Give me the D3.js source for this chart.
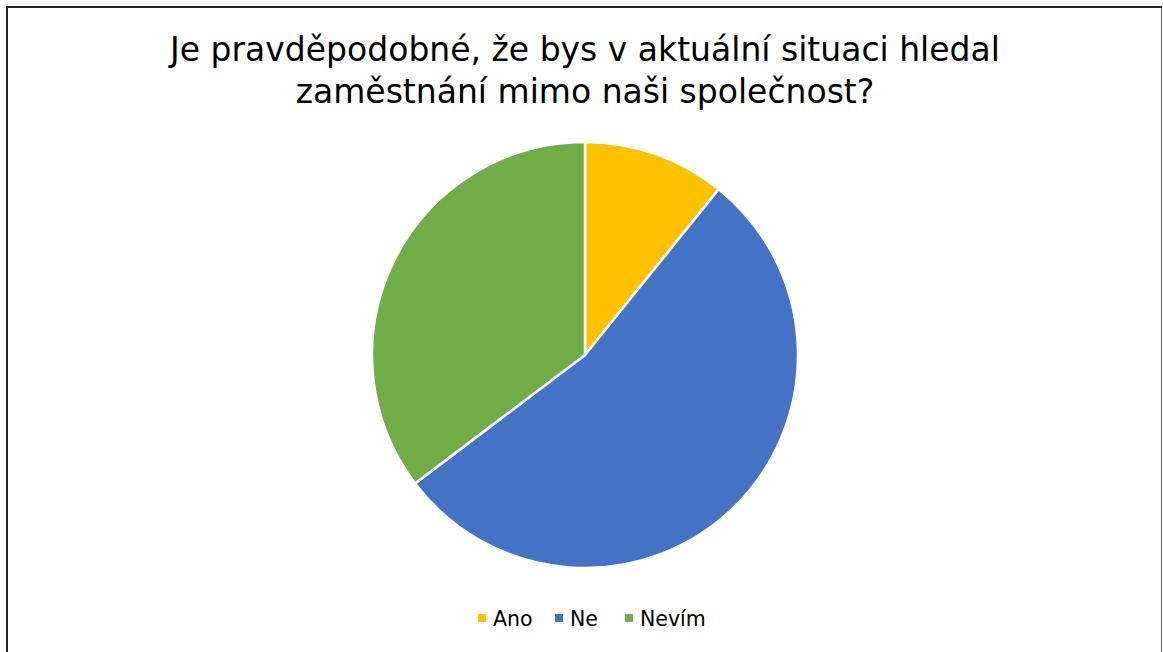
<!DOCTYPE html>
<html><head><meta charset="utf-8">
<script src="https://cdn.jsdelivr.net/npm/d3@7"></script>
<style>html,body{margin:0;padding:0;background:#fff;}svg{display:block;}</style>
</head><body>
<script>
const categories = ["Ano", "Ne", "Nevím"];
const values = [10.8, 53.9, 35.3];
const colors = ["#FFC000", "#4472C4", "#70AD47"];
const titleLines = ["Je pravděpodobné, že bys v aktuální situaci hledal", "zaměstnání mimo naši společnost?"];

const W = 1163, H = 652;
const svg = d3.select("body").append("svg").attr("width", W).attr("height", H);
svg.append("rect").attr("width", W).attr("height", H).attr("fill", "#fff");

// border
svg.append("line").attr("x1", 7).attr("x2", 7).attr("y1", 6).attr("y2", H).attr("stroke", "#222").attr("stroke-width", 2);
svg.append("line").attr("x1", 6).attr("x2", 1162).attr("y1", 7).attr("y2", 7).attr("stroke", "#222").attr("stroke-width", 2);
svg.append("line").attr("x1", 1161.5).attr("x2", 1161.5).attr("y1", 7).attr("y2", H).attr("stroke", "#666").attr("stroke-width", 1);

// title
svg.append("g").selectAll("text").data(titleLines).join("text")
  .attr("x", 585).attr("y", (d, i) => 61 + i * 42)
  .attr("text-anchor", "middle")
  .attr("font-family", "DejaVu Sans, sans-serif")
  .attr("font-size", 33).attr("fill", "#000")
  .text(d => d);

// pie
const cx = 585, cy = 355, r = 213;
const pie = d3.pie().sort(null).value(d => d.v);
const arc = d3.arc().innerRadius(0).outerRadius(r);
const data = categories.map((c, i) => ({c, v: values[i], col: colors[i]}));
svg.append("g").attr("transform", `translate(${cx},${cy})`)
  .selectAll("path").data(pie(data)).join("path")
  .attr("d", arc).attr("fill", d => d.data.col)
  .attr("stroke", "#fff").attr("stroke-width", 2.5).attr("stroke-linejoin", "round");

// legend
const legX = [478, 555, 625];
const lg = svg.append("g").selectAll("g").data(data).join("g")
  .attr("transform", (d, i) => `translate(${legX[i]},618)`);
lg.append("rect").attr("x", 0).attr("y", -4).attr("width", 8).attr("height", 8).attr("fill", d => d.col);
lg.append("text").attr("x", 15).attr("y", 7.5)
  .attr("font-family", "DejaVu Sans, sans-serif").attr("font-size", 20.5).attr("fill", "#000")
  .text(d => d.c);
</script>
</body></html>
